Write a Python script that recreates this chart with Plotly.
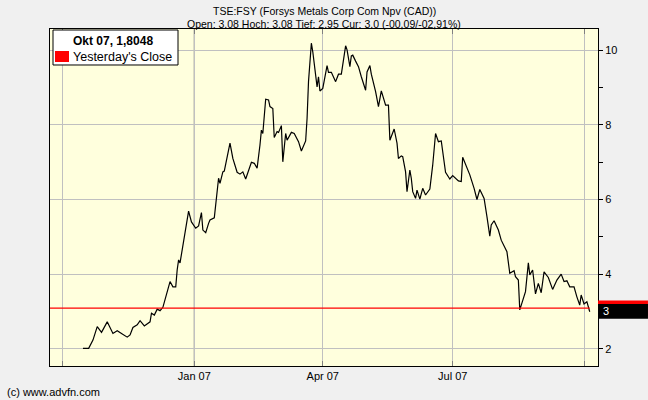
import plotly.graph_objects as go

# ---- data ----
dates = [
    "2006-10-15", "2006-10-19", "2006-10-22", "2006-10-25", "2006-10-28", "2006-11-01", "2006-11-05",
    "2006-11-08", "2006-11-11", "2006-11-15", "2006-11-17", "2006-11-19", "2006-11-22", "2006-11-24",
    "2006-11-27", "2006-12-01", "2006-12-02", "2006-12-04", "2006-12-06", "2006-12-08", "2006-12-10",
    "2006-12-13", "2006-12-15", "2006-12-17", "2006-12-19", "2006-12-20", "2006-12-21", "2006-12-22",
    "2006-12-24", "2006-12-26", "2006-12-28", "2006-12-30", "2007-01-02", "2007-01-04", "2007-01-06",
    "2007-01-07", "2007-01-09", "2007-01-11", "2007-01-12", "2007-01-15", "2007-01-17", "2007-01-18",
    "2007-01-19", "2007-01-21", "2007-01-22", "2007-01-24", "2007-01-26", "2007-01-28", "2007-01-31",
    "2007-02-02", "2007-02-04", "2007-02-06", "2007-02-08", "2007-02-10", "2007-02-12", "2007-02-14",
    "2007-02-16", "2007-02-17", "2007-02-18", "2007-02-20", "2007-02-22", "2007-02-23", "2007-02-25",
    "2007-02-26", "2007-02-28", "2007-03-01", "2007-03-03", "2007-03-04", "2007-03-06", "2007-03-07",
    "2007-03-10", "2007-03-12", "2007-03-15", "2007-03-17", "2007-03-20", "2007-03-21", "2007-03-22",
    "2007-03-24", "2007-03-25", "2007-03-27", "2007-03-28", "2007-03-29", "2007-03-30", "2007-04-01",
    "2007-04-04", "2007-04-05", "2007-04-07", "2007-04-10", "2007-04-12", "2007-04-14", "2007-04-17",
    "2007-04-18", "2007-04-20", "2007-04-21", "2007-04-22", "2007-04-24", "2007-04-26", "2007-04-28",
    "2007-05-01", "2007-05-02", "2007-05-04", "2007-05-05", "2007-05-08", "2007-05-10", "2007-05-12",
    "2007-05-15", "2007-05-17", "2007-05-18", "2007-05-19", "2007-05-21", "2007-05-23", "2007-05-24",
    "2007-05-26", "2007-05-27", "2007-05-29", "2007-05-30", "2007-06-01", "2007-06-02", "2007-06-03",
    "2007-06-05", "2007-06-06", "2007-06-08", "2007-06-10", "2007-06-12", "2007-06-15", "2007-06-17",
    "2007-06-19", "2007-06-21", "2007-06-23", "2007-06-24", "2007-06-26", "2007-06-29", "2007-07-01",
    "2007-07-05", "2007-07-07", "2007-07-08", "2007-07-11", "2007-07-13", "2007-07-16", "2007-07-18",
    "2007-07-20", "2007-07-23", "2007-07-25", "2007-07-27", "2007-07-28", "2007-07-30", "2007-08-02",
    "2007-08-04", "2007-08-08", "2007-08-10", "2007-08-13", "2007-08-14", "2007-08-16", "2007-08-17",
    "2007-08-21", "2007-08-23", "2007-08-24", "2007-08-26", "2007-08-28", "2007-08-30", "2007-09-01",
    "2007-09-03", "2007-09-06", "2007-09-09", "2007-09-12", "2007-09-15", "2007-09-17", "2007-09-19",
    "2007-09-21", "2007-09-24", "2007-09-26", "2007-09-28", "2007-09-29", "2007-10-01", "2007-10-03",
    "2007-10-05",
]
prices = [
    2.01, 2.01, 2.23, 2.59, 2.44, 2.72, 2.41,
    2.48, 2.41, 2.31, 2.37, 2.57, 2.64, 2.75,
    2.61, 2.72, 2.95, 2.90, 3.06, 3.02, 3.11,
    3.49, 3.80, 3.66, 3.66, 4.11, 4.38, 4.30,
    4.73, 5.27, 5.69, 5.40, 5.23, 5.29, 5.65,
    5.18, 5.11, 5.36, 5.45, 5.51, 6.21, 6.57,
    6.43, 6.74, 6.76, 7.19, 7.51, 7.10, 6.73,
    6.68, 6.74, 6.55, 6.79, 7.00, 6.97, 6.84,
    7.46, 7.86, 7.77, 8.69, 8.67, 8.49, 8.44,
    7.66, 7.82, 7.80, 7.98, 7.01, 7.77, 7.59,
    7.80, 7.77, 7.55, 7.30, 7.57, 8.18, 9.16,
    10.19, 9.96, 9.29, 9.02, 9.29, 8.91, 8.98,
    9.59, 9.41, 9.41, 9.16, 9.36, 9.36, 10.12,
    10.01, 9.56, 9.85, 9.87, 9.71, 9.56, 9.29,
    8.93, 9.42, 9.59, 9.36, 8.89, 8.49, 8.91,
    8.53, 8.53, 7.59, 7.68, 7.89, 7.51, 7.10,
    7.17, 7.15, 6.74, 6.21, 6.79, 6.57, 6.21,
    6.03, 6.25, 6.01, 6.30, 6.12, 6.28, 6.92,
    7.77, 7.55, 7.57, 7.28, 6.73, 6.55, 6.64,
    6.50, 6.48, 7.13, 6.84, 6.66, 6.30, 6.00,
    6.27, 6.03, 5.54, 5.02, 5.32, 5.43, 5.18,
    4.91, 4.60, 4.02, 4.09, 3.93, 3.84, 3.04,
    3.53, 4.30, 3.98, 4.11, 3.47, 3.75, 3.50,
    4.06, 3.91, 3.59, 3.84, 4.00, 3.80, 3.82,
    3.66, 3.66, 3.39, 3.17, 3.44, 3.20, 3.26,
    2.99,
]
yesterday_close = 3.09
current_price = 3.0
current_label = "3"

x_tickvals = ["2006-10-01", "2007-01-01", "2007-04-01", "2007-07-01", "2007-10-01"]
x_ticktext = ["", "Jan 07", "Apr 07", "Jul 07", ""]
year_boundary = "2007-01-01"
x_range = ["2006-09-21 22:00", "2007-10-10 19:00"]
y_range = [1.536, 10.571]
y_tickvals = [2, 4, 6, 8, 10]

title_line1 = "TSE:FSY (Forsys Metals Corp Com Npv (CAD))"
title_line2 = "Open: 3.08 Hoch: 3.08 Tief: 2.95 Cur: 3.0 (-00,09/-02,91%)"
legend_head = "Okt 07, 1,8048"
legend_item = "Yesterday's Close"
credit = "(c) www.advfn.com"

FONT = "Liberation Sans, Arial, sans-serif"

fig = go.Figure()
fig.add_trace(go.Scatter(x=dates, y=prices, mode="lines",
                         line=dict(color="black", width=1.2), hoverinfo="skip",
                         showlegend=False))
fig.add_trace(go.Scatter(x=[x_range[0], dates[-1]], y=[yesterday_close, yesterday_close],
                         mode="lines", line=dict(color="#ff0000", width=1.3),
                         hoverinfo="skip", showlegend=False))

shapes = [
    # darker year-boundary gridline
    dict(type="line", xref="x", yref="paper", x0=year_boundary, x1=year_boundary, y0=0, y1=1,
         line=dict(color="#8a8a8a", width=1.2), layer="below"),
    # right-axis value boxes
    dict(type="rect", xref="paper", yref="y", x0=1.0, x1=1.0912,
         y0=yesterday_close - 0.2, y1=yesterday_close + 0.2,
         fillcolor="#ff0000", line=dict(width=0)),
    dict(type="rect", xref="paper", yref="y", x0=1.0, x1=1.0912,
         y0=current_price - 0.2, y1=current_price + 0.2,
         fillcolor="black", line=dict(width=0)),
    # legend box
    dict(type="rect", xref="paper", yref="paper", x0=0.0055, x1=0.2336, y0=0.8932, y1=0.997,
         fillcolor="white", line=dict(color="black", width=1)),
    dict(type="rect", xref="paper", yref="paper", x0=0.0091, x1=0.0347, y0=0.9021, y1=0.9347,
         fillcolor="#ff0000", line=dict(width=0)),
]

annotations = [
    dict(text=title_line1, xref="paper", yref="paper", x=0.5, y=1.0534,
         xanchor="center", yanchor="middle", showarrow=False,
         font=dict(family=FONT, size=10.5, color="black")),
    dict(text=title_line2, xref="paper", yref="paper", x=0.5, y=1.0148,
         xanchor="center", yanchor="middle", showarrow=False,
         font=dict(family=FONT, size=10.5, color="black")),
    dict(text="<b>" + legend_head + "</b>", xref="paper", yref="paper", x=0.039, y=0.9644,
         xanchor="left", yanchor="middle", showarrow=False,
         font=dict(family=FONT, size=12, color="black")),
    dict(text=legend_item, xref="paper", yref="paper", x=0.039, y=0.917,
         xanchor="left", yanchor="middle", showarrow=False,
         font=dict(family=FONT, size=12.5, color="black")),
    dict(text=current_label, xref="paper", yref="y", x=1.006, y=current_price,
         xanchor="left", yanchor="middle", showarrow=False,
         font=dict(family=FONT, size=11, color="white")),
    dict(text=credit, xref="paper", yref="paper", x=-0.0821, y=-0.077,
         xanchor="left", yanchor="middle", showarrow=False,
         font=dict(family=FONT, size=11, color="black")),
]

fig.update_layout(
    width=648, height=400,
    margin=dict(l=50, r=50, t=29, b=34, pad=0),
    paper_bgcolor="#f0f0f0",
    plot_bgcolor="#ffffdd",
    font=dict(family=FONT, size=11, color="black"),
    showlegend=False,
    shapes=shapes,
    annotations=annotations,
    xaxis=dict(type="date", range=x_range, tickvals=x_tickvals, ticktext=x_ticktext,
               showgrid=True, gridcolor="#c0c0c0", gridwidth=1,
               showline=True, linecolor="black", linewidth=1, mirror="ticks",
               ticks="inside", ticklen=5, tickcolor="#808080",
               tickfont=dict(family=FONT, size=11, color="black"), zeroline=False),
    yaxis=dict(range=y_range, side="right", tickvals=y_tickvals,
               showgrid=True, gridcolor="#c0c0c0", gridwidth=1,
               showline=True, linecolor="black", linewidth=1, mirror=True,
               ticks="outside", ticklen=4, tickcolor="black",
               minor=dict(dtick=1, tick0=1, ticks="outside", ticklen=4, tickcolor="black",
                          showgrid=False),
               tickfont=dict(family=FONT, size=11, color="black"), zeroline=False),
)

fig.write_html(
    "out.html",
    config={"displayModeBar": False},
    post_script="document.body.style.margin='0';document.body.style.overflow='hidden';",
)
